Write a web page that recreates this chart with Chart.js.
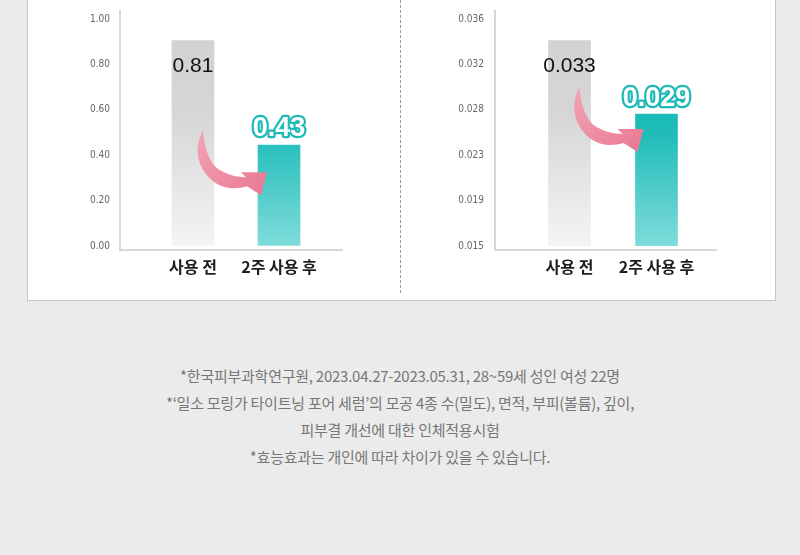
<!DOCTYPE html>
<html>
<head>
<meta charset="utf-8">
<script src="https://cdn.jsdelivr.net/npm/chart.js@4"></script>
<style>
  body { margin: 0; background: #ebebeb; width: 800px; height: 555px; overflow: hidden; position: relative; }
  .card { position: absolute; left: 27px; top: -2px; width: 749px; height: 303px; background: #fff; border: 1px solid #c6c6c6; box-sizing: border-box; }
  .divider { position: absolute; left: 400px; top: 0; height: 293px; border-left: 1px dashed #9a9a9a; }
  .box { position: absolute; top: 0; width: 400px; height: 300px; }
  .note { position: absolute; left: 0; top: 362px; width: 800px; text-align: center; color: #777; font-family: "Noto Sans CJK KR", sans-serif; font-size: 15px; line-height: 27px; letter-spacing: -0.25px; }
</style>
</head>
<body>
<div class="card"></div>
<div class="divider"></div>
<div class="box" style="left:0"><canvas id="densityChart" width="400" height="300"></canvas></div>
<div class="box" style="left:400px"><canvas id="areaChart" width="400" height="300"></canvas></div>
<div class="note">
  *한국피부과학연구원, 2023.04.27-2023.05.31, 28~59세 성인 여성 22명<br>
  *‘일소 모링가 타이트닝 포어 세럼’의 모공 4종 수(밀도), 면적, 부피(볼륨), 깊이,<br>
  피부결 개선에 대한 인체적용시험<br>
  *효능효과는 개인에 따라 차이가 있을 수 있습니다.
</div>
<script>
const categories = ['사용 전', '2주 사용 후'];

// left: pore density (bar heights as drawn, printed labels)
const densityBars = [0.905, 0.445];
const densityLabels = ['0.81', '0.43'];
const densityTicks = [0, 0.2, 0.4, 0.6, 0.8, 1.0];

// right: pore area
const areaBars = [0.034, 0.0272];
const areaLabels = ['0.033', '0.029'];
const areaTickValues = [0.015, 0.0192, 0.0234, 0.0276, 0.0318, 0.036];
const areaTickLabels = ['0.015', '0.019', '0.023', '0.028', '0.032', '0.036'];

const teal = '#1fbab8';

// axis lines, value labels and the pink arrow
const decor = {
  id: 'decor',
  afterDatasetsDraw(chart, args, opts) {
    const ctx = chart.ctx;
    const area = chart.chartArea;
    const bars = chart.getDatasetMeta(0).data;
    const labels = opts.labels;

    ctx.save();
    // axis lines
    const x0 = area.left - opts.axisGap;
    ctx.strokeStyle = '#d8d8d8';
    ctx.lineWidth = 2;
    ctx.beginPath();
    ctx.moveTo(x0, 10);
    ctx.lineTo(x0, 250);
    ctx.lineTo(area.right + opts.axisTail, 250);
    ctx.stroke();

    // before label
    ctx.textAlign = 'center';
    ctx.textBaseline = 'middle';
    ctx.fillStyle = '#111';
    ctx.font = '21px "Liberation Sans", Arial, sans-serif';
    ctx.fillText(labels[0], bars[0].x, bars[0].y + 26);

    // after label, outlined
    ctx.font = 'bold 27px "Liberation Sans", Arial, sans-serif';
    ctx.lineJoin = 'round';
    ctx.lineWidth = 4.5;
    ctx.strokeStyle = teal;
    ctx.strokeText(labels[1], bars[1].x, bars[1].y - 16);
    ctx.fillStyle = '#fff';
    ctx.fillText(labels[1], bars[1].x, bars[1].y - 16);

    // arrow
    const tx = bars[0].x + bars[0].width / 2 - 11;
    const ty = chart.scales.y.getPixelForValue(opts.arrowAt);
    ctx.translate(tx, ty);
    const g = ctx.createLinearGradient(0, 0, 60, 60);
    g.addColorStop(0, '#f2a2b4');
    g.addColorStop(1, '#ea7b95');
    ctx.fillStyle = g;
    ctx.beginPath();
    ctx.moveTo(0, 0);
    ctx.bezierCurveTo(-10, 18, -6, 40, 13, 53);
    ctx.bezierCurveTo(22, 59, 34, 59, 44, 56);
    ctx.lineTo(58, 65);
    ctx.lineTo(64, 42);
    ctx.lineTo(38, 42);
    ctx.lineTo(43, 47);
    ctx.bezierCurveTo(32, 47, 20, 43, 13, 37);
    ctx.bezierCurveTo(5, 29, 1, 15, 0, 0);
    ctx.closePath();
    ctx.fill();
    ctx.restore();
  }
};

function barFill(context) {
  const chart = context.chart;
  const area = chart.chartArea;
  if (!area) return '#ccc';
  const g = chart.ctx.createLinearGradient(0, 40, 0, area.bottom);
  if (context.dataIndex === 0) {
    g.addColorStop(0, '#d2d2d2');
    g.addColorStop(0.35, '#d6d6d6');
    g.addColorStop(1, '#f4f4f4');
  } else {
    g.addColorStop(0, '#12b7b4');
    g.addColorStop(0.45, '#1fbcb9');
    g.addColorStop(1, '#7fdcda');
  }
  return g;
}

function makeChart(id, values, labels, yOpts, deco) {
  return new Chart(document.getElementById(id), {
    type: 'bar',
    data: {
      labels: categories,
      datasets: [{
        data: values,
        backgroundColor: barFill,
        barThickness: 42,
        borderWidth: 0
      }]
    },
    options: {
      responsive: false,
      animation: false,
      layout: { padding: { top: 19, right: deco.padRight, left: 0, bottom: 0 } },
      plugins: {
        legend: { display: false },
        tooltip: { enabled: false },
        decor: Object.assign({ labels: labels }, deco)
      },
      scales: {
        x: {
          grid: { display: false, drawTicks: false },
          border: { display: false },
          ticks: {
            padding: 11,
            color: '#1e1e1e',
            font: { family: '"Noto Sans CJK KR", sans-serif', size: 16, weight: 'bold' }
          },
          afterFit(scale) { scale.height = 54; }
        },
        y: Object.assign({
          // invisible tick marks push the labels left without adding top padding
          grid: { display: true, drawOnChartArea: false, drawTicks: true, tickLength: deco.labelGap, tickColor: 'rgba(0,0,0,0)' },
          border: { display: false },
          afterFit(scale) { scale.width = deco.yWidth; }
        }, yOpts)
      }
    },
    plugins: [decor]
  });
}

makeChart('densityChart', densityBars, densityLabels, {
  min: 0,
  max: 1,
  afterBuildTicks(scale) { scale.ticks = densityTicks.map(v => ({ value: v })); },
  ticks: {
    padding: 0,
    color: '#666',
    font: { family: '"Liberation Sans Narrow", "DejaVu Sans Condensed", sans-serif', size: 10 },
    callback: v => v.toFixed(2)
  }
}, { yWidth: 150, padRight: 78, labelGap: 40, axisGap: 30, axisTail: 21, arrowAt: 0.51 });

makeChart('areaChart', areaBars, areaLabels, {
  min: 0.015,
  max: 0.036,
  afterBuildTicks(scale) { scale.ticks = areaTickValues.map(v => ({ value: v })); },
  ticks: {
    padding: 0,
    color: '#666',
    font: { family: '"Liberation Sans Narrow", "DejaVu Sans Condensed", sans-serif', size: 10 },
    callback: (v, i) => areaTickLabels[i]
  }
}, { yWidth: 126, padRight: 100, labelGap: 42, axisGap: 31, axisTail: 17, arrowAt: 0.0297 });
</script>
</body>
</html>
